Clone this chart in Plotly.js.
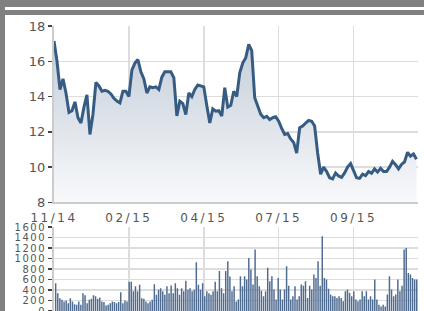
<!DOCTYPE html>
<html>
<head>
<meta charset="utf-8">
<script src="https://cdn.plot.ly/plotly-3.0.1.min.js"></script>
<style>
  html, body { margin: 0; padding: 0; background: #ffffff; overflow: hidden; width: 424px; height: 311px; }
  #chart { position: absolute; left: 0; top: 0; width: 424px; height: 320px; }
  .band { position: absolute; background: #808080; pointer-events: none; z-index: 5; }
  .xtick text { letter-spacing: 2.5px; }
  .y2tick text { letter-spacing: 1.5px; }
</style>
</head>
<body>
<div id="chart"></div>
<div class="band" style="left:0;top:0;width:424px;height:7px;"></div>
<div class="band" style="left:0;top:10px;width:424px;height:5px;"></div>
<div class="band" style="left:0;top:0;width:5px;height:311px;"></div>
<script>
// ---- data ----
const tickLabels = ['11/14', '02/15', '04/15', '07/15', '09/15'];
const tickDays = [0, 50, 100, 150, 200];
const totalDays = 243;

// closing price, one value every 2 trading days
const price = [
  17.15, 16.0, 14.4, 15.0, 14.2, 13.1, 13.2, 13.7, 12.8, 12.5,
  13.4, 14.1, 11.85, 13.0, 14.8, 14.6, 14.3, 14.35, 14.3, 14.15,
  13.9, 13.74, 13.64, 14.3, 14.3, 14.0, 15.5, 15.9, 16.1, 15.4,
  15.0, 14.2, 14.55, 14.5, 14.55, 14.4, 15.1, 15.4, 15.4, 15.4,
  15.07, 12.9, 13.74, 13.6, 12.98, 14.2, 14.0, 14.4, 14.65, 14.6,
  14.55, 13.5, 12.5, 13.3, 13.17, 13.2, 12.9, 14.5, 13.4, 13.5,
  14.3, 14.0, 15.35, 15.9, 16.2, 16.96, 16.6, 13.93, 13.5, 13.0,
  12.8, 12.88, 12.7, 12.8, 12.85, 12.6, 12.2, 11.85, 11.9, 11.6,
  11.4, 10.8, 12.23, 12.33, 12.5, 12.65, 12.6, 12.33, 10.8, 9.6,
  10.0, 9.75, 9.4, 9.33, 9.67, 9.5, 9.42, 9.67, 10.0, 10.2,
  9.8, 9.4, 9.36, 9.6, 9.52, 9.75, 9.65, 9.9, 9.72, 9.93,
  9.75, 9.75, 10.0, 10.33, 10.14, 9.9, 10.15, 10.3, 10.84, 10.62,
  10.75, 10.45
];

// trading volume
const volume = [
  530, 340, 245, 213, 181, 200, 150, 245, 181, 130,
  118, 181, 118, 340, 300, 150, 213, 232, 300, 280,
  232, 258, 181, 170, 105, 118, 150, 181, 170, 150,
  170, 360, 150, 200, 181, 560, 560, 375, 470, 375,
  500, 245, 232, 181, 150, 181, 213, 510, 310, 405,
  436, 375, 310, 470, 340, 485, 340, 530, 436, 310,
  436, 375, 575, 405, 436, 375, 405, 930, 500, 405,
  530, 280, 375, 340, 310, 375, 560, 375, 765, 436,
  340, 765, 950, 660, 375, 470, 181,
  219, 663, 473, 663, 600, 1013, 790, 505, 1172, 663,
  473, 385, 282, 378, 823, 568, 663, 410, 219, 632,
  410, 219, 410, 853, 480, 219, 282, 473, 219, 282,
  505, 480, 568, 250, 480, 410, 695, 632, 950, 480,
  1425, 632, 600, 423, 314, 282, 282, 250, 282, 250,
  187, 378, 410, 346, 282, 378, 219, 187, 219, 378,
  282, 378, 219, 282, 219, 600, 219, 118, 86, 118,
  86, 314, 663, 410, 282, 314, 600, 378, 480, 1172,
  1204, 727, 695, 632, 600, 600
];

const priceDays = price.map((_, i) => i * 2);
const volIdx = volume.map((_, i) => i);
const volRange = [-0.8, volume.length - 0.4];
const volTickVals = tickDays.map(d => volRange[0] + (d / totalDays) * (volRange[1] - volRange[0]));

const labelFont = { family: 'DejaVu Sans, Verdana, sans-serif', size: 13, color: '#555555' };
const gridColor = '#dddddd';

const traces = [
  {
    type: 'scatter', mode: 'lines',
    x: priceDays, y: price,
    xaxis: 'x', yaxis: 'y',
    line: { color: '#375c83', width: 3 },
    fill: 'tozeroy',
    fillgradient: {
      type: 'vertical', start: 8, stop: 17.5,
      colorscale: [[0, '#f8f9fb'], [1, '#c2ccd8']]
    },
    hoverinfo: 'skip'
  },
  {
    type: 'bar',
    x: volIdx, y: volume,
    xaxis: 'x2', yaxis: 'y2',
    marker: { color: '#4f6b90', line: { width: 0 } },
    hoverinfo: 'skip'
  }
];

const layout = {
  width: 424, height: 320,
  margin: { l: 54, r: 6, t: 26, b: 8.5 },
  paper_bgcolor: '#ffffff', plot_bgcolor: '#ffffff',
  showlegend: false,
  bargap: 0.3,
  xaxis: {
    domain: [0, 1], anchor: 'y', range: [0, totalDays],
    tickmode: 'array', tickvals: tickDays, ticktext: tickLabels,
    showgrid: true, gridcolor: gridColor, gridwidth: 1.5,
    showline: true, linecolor: '#cccccc', linewidth: 2,
    ticks: '', zeroline: false, ticklabelstandoff: 3,
    tickfont: { family: 'DejaVu Sans, Verdana, sans-serif', size: 12, color: '#555555' }
  },
  yaxis: {
    domain: [0.381, 1], anchor: 'x', range: [8, 18], dtick: 2,
    showgrid: true, gridcolor: gridColor, gridwidth: 1.5,
    showline: true, linecolor: '#cccccc', linewidth: 2,
    ticks: 'outside', ticklen: 4, tickwidth: 1.5, tickcolor: '#444444',
    zeroline: false, tickfont: labelFont
  },
  xaxis2: {
    domain: [0, 1], anchor: 'y2', range: volRange,
    tickmode: 'array', tickvals: volTickVals, showticklabels: false,
    showgrid: true, gridcolor: gridColor, gridwidth: 1.5,
    showline: false, ticks: '', zeroline: false
  },
  yaxis2: {
    domain: [0, 0.2942], anchor: 'x2', range: [0, 1600], dtick: 200,
    showgrid: true, gridcolor: gridColor, gridwidth: 1.5,
    showline: true, linecolor: '#cccccc', linewidth: 2,
    ticks: 'outside', ticklen: 4, tickwidth: 1.5, tickcolor: '#444444',
    zeroline: false,
    tickfont: { family: 'DejaVu Sans, Verdana, sans-serif', size: 10, color: '#555555' }
  }
};

Plotly.newPlot('chart', traces, layout, { staticPlot: true, displayModeBar: false });
</script>
</body>
</html>
